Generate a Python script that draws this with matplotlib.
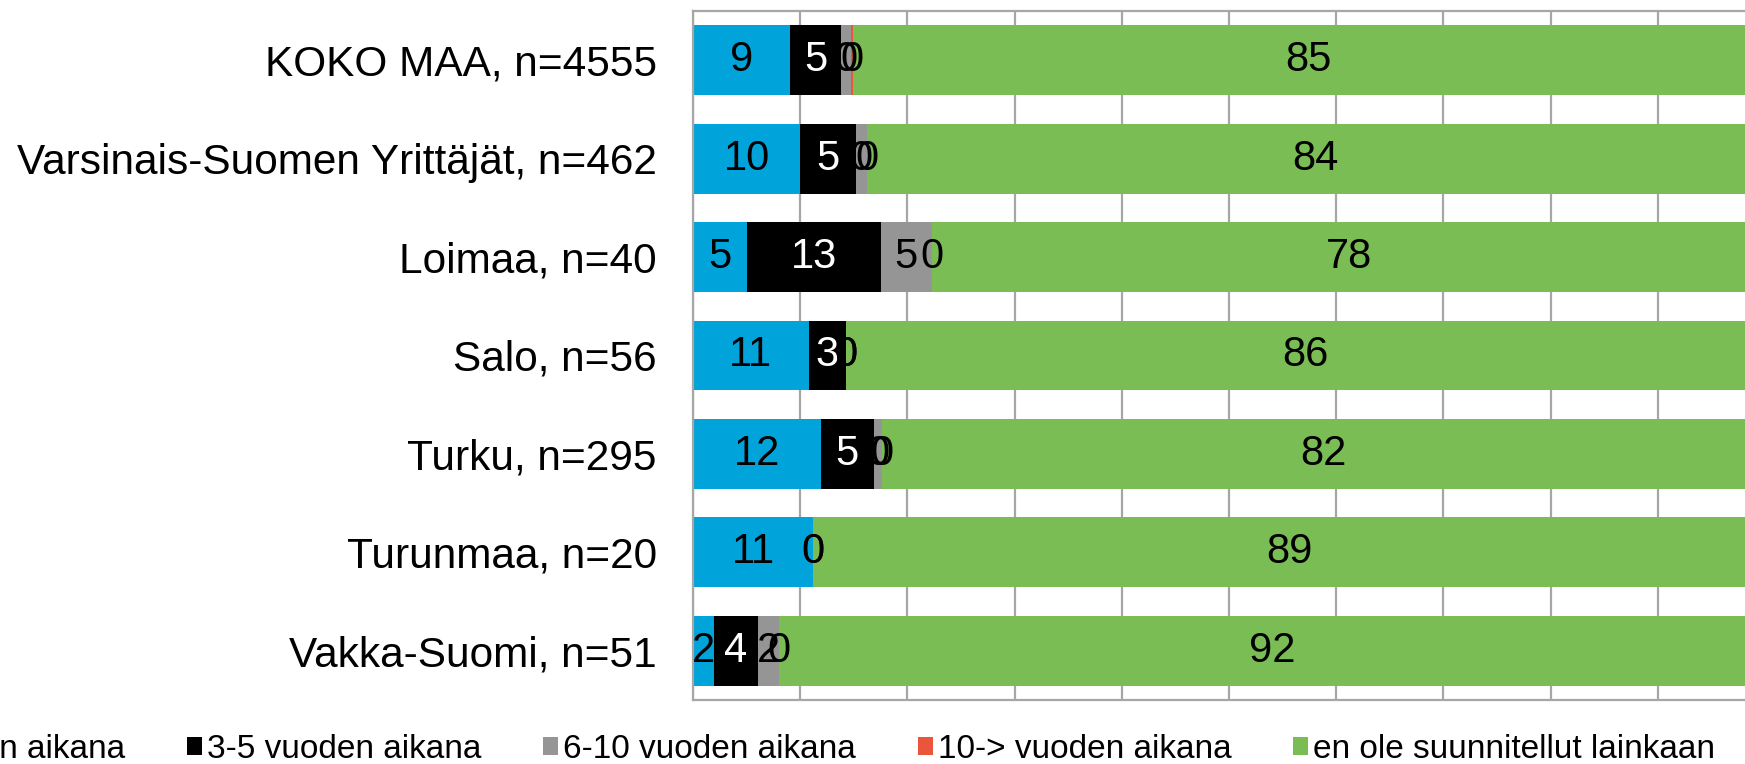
import numpy as np
import matplotlib.pyplot as plt

plt.rcParams['font.family'] = ['Liberation Sans', 'DejaVu Sans']

categories = ["KOKO MAA, n=4555", "Varsinais-Suomen Yrittäjät, n=462", "Loimaa, n=40",
              "Salo, n=56", "Turku, n=295", "Turunmaa, n=20", "Vakka-Suomi, n=51"]
series_names = ["1-2 vuoden aikana", "3-5 vuoden aikana", "6-10 vuoden aikana",
                "10-> vuoden aikana", "en ole suunnitellut lainkaan"]

# segment widths (%)
v_1_2 = [9.05, 10.0, 5.0, 10.8, 11.9, 11.2, 1.95]
v_3_5 = [4.75, 5.2, 12.5, 3.5, 5.0, 0.0, 4.1]
v_6_10 = [0.9, 1.0, 4.8, 0.0, 0.7, 0.0, 2.0]
v_10p = [0.2, 0.0, 0.0, 0.0, 0.0, 0.0, 0.0]
v_en = [85.1, 83.8, 77.7, 85.7, 82.4, 88.8, 91.95]

# numbers shown as data labels
l_1_2 = [9, 10, 5, 11, 12, 11, 2]
l_3_5 = [5, 5, 13, 3, 5, 0, 4]
l_6_10 = [0, 0, 5, 0, 0, 0, 2]
l_10p = [0, 0, 0, 0, 0, 0, 0]
l_en = [85, 84, 78, 86, 82, 89, 92]

colors = ["#00A3DA", "#000000", "#959595", "#E9563C", "#7BBD55"]
text_colors = ["black", "white", "black", "black", "black"]

values = [v_1_2, v_3_5, v_6_10, v_10p, v_en]
labels = [l_1_2, l_3_5, l_6_10, l_10p, l_en]

fig = plt.figure(figsize=(17.45, 7.64), dpi=100)
ax = fig.add_axes([0.3971, 0.0838, 0.6144, 0.9018])

y = np.arange(len(categories))
left = np.zeros(len(categories))
for vals, labs, col, tcol, name in zip(values, labels, colors, text_colors, series_names):
    vals = np.array(vals)
    ax.barh(y, vals, left=left, height=0.71, color=col, label=name, zorder=2)
    for yi, (l, v, lab) in enumerate(zip(left, vals, labs)):
        ax.text(l + v / 2, yi, str(lab), ha='center', va='center',
                color=tcol, fontsize=30, zorder=3)
    left = left + vals

ax.set_xlim(0, 100)
ax.set_ylim(len(categories) - 0.5, -0.5)
ax.set_xticks(np.arange(0, 101, 10))
ax.set_xticklabels([])
ax.set_yticks(y)
ax.set_yticklabels(categories, fontsize=30.5)
ax.tick_params(axis='both', length=0)
ax.tick_params(axis='y', pad=26)
ax.grid(axis='x', color='#A6A6A6', linewidth=1.6, zorder=0)
ax.set_axisbelow(True)
for side in ['left', 'top', 'bottom', 'right']:
    ax.spines[side].set_color('#A6A6A6')
    ax.spines[side].set_linewidth(1.6)

handles, names = ax.get_legend_handles_labels()
fig.legend(handles, names, loc='center right', bbox_to_anchor=(1715 / 1745, 0.019),
           ncol=5, frameon=False, fontsize=24, handlelength=0.45, handleheight=0.45,
           handletextpad=0.15, columnspacing=1.85, borderpad=0, borderaxespad=0)

fig.savefig('out.png', dpi=100)
